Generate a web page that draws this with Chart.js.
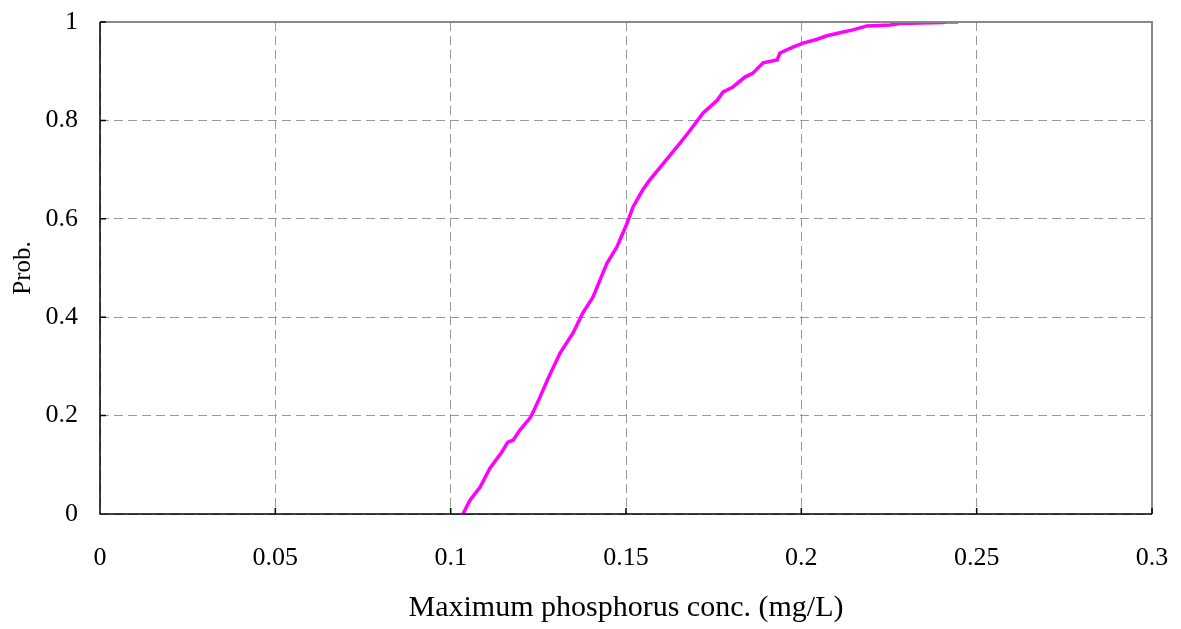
<!DOCTYPE html>
<html>
<head>
<meta charset="utf-8">
<script src="https://cdn.jsdelivr.net/npm/chart.js@4"></script>
<style>
  html, body { margin: 0; padding: 0; background: #fff; }
  #wrap { width: 1181px; height: 629px; }
</style>
</head>
<body>
<div id="wrap"><canvas id="cdf"></canvas></div>
<script>
// concentration (mg/L)
const conc = [0.1035, 0.1055, 0.1084, 0.1112, 0.1146, 0.1163, 0.1178, 0.1198, 0.1226, 0.1235,
  0.1255, 0.1278, 0.1312, 0.1349, 0.1377, 0.1406, 0.1426, 0.1446, 0.1474, 0.1503,
  0.152, 0.1548, 0.1568, 0.1654, 0.1683, 0.172, 0.176, 0.1777, 0.1805, 0.1839,
  0.1862, 0.1891, 0.1931, 0.1939, 0.1976, 0.2005, 0.2045, 0.2073, 0.211, 0.2147,
  0.2187, 0.2253, 0.2281, 0.2404, 0.2413, 0.2447];
// cumulative probability
const prob = [0, 0.028, 0.055, 0.093, 0.126, 0.146, 0.150, 0.171, 0.195, 0.207,
  0.238, 0.276, 0.327, 0.368, 0.409, 0.441, 0.476, 0.510, 0.543, 0.591,
  0.624, 0.659, 0.679, 0.754, 0.780, 0.815, 0.841, 0.858, 0.868, 0.888,
  0.896, 0.917, 0.923, 0.937, 0.949, 0.957, 0.965, 0.972, 0.978, 0.984,
  0.992, 0.994, 0.997, 0.999, 1.0, 1.0];
const xTicks = [0, 0.05, 0.1, 0.15, 0.2, 0.25, 0.3];
const yTicks = [0, 0.2, 0.4, 0.6, 0.8, 1];

const serif = 'Liberation Serif, Times New Roman, serif';

// solid frame: grey top/right, black left/bottom, small inward ticks
const frame = {
  id: 'frame',
  afterDraw(chart) {
    const { ctx, chartArea: a, scales } = chart;
    ctx.save();
    ctx.strokeStyle = '#888';
    ctx.lineWidth = 2;
    ctx.beginPath();
    ctx.moveTo(a.left, a.top); ctx.lineTo(a.right, a.top); ctx.lineTo(a.right, a.bottom);
    ctx.stroke();
    ctx.strokeStyle = '#000';
    ctx.lineWidth = 1.5;
    ctx.beginPath();
    ctx.moveTo(a.left, a.top); ctx.lineTo(a.left, a.bottom); ctx.lineTo(a.right, a.bottom);
    xTicks.forEach(v => {
      const px = scales.x.getPixelForValue(v);
      ctx.moveTo(px, a.bottom); ctx.lineTo(px, a.bottom - 6);
    });
    yTicks.forEach(v => {
      const py = scales.y.getPixelForValue(v);
      ctx.moveTo(a.left, py); ctx.lineTo(a.left + 6, py);
    });
    ctx.stroke();
    ctx.restore();
  }
};

new Chart(document.getElementById('cdf'), {
  type: 'line',
  data: {
    datasets: [{
      data: conc.map((c, i) => ({ x: c, y: prob[i] })),
      borderColor: '#ff00ff',
      borderWidth: 3.5,
      pointRadius: 0,
      tension: 0,
      fill: false
    }]
  },
  options: {
    responsive: true,
    maintainAspectRatio: false,
    animation: false,
    layout: { padding: { top: 22, right: 29, left: 0, bottom: 0 } },
    plugins: { legend: { display: false }, tooltip: { enabled: false } },
    scales: {
      x: {
        type: 'linear', min: 0, max: 0.3,
        afterFit(s) { s.height = 115; s.paddingLeft = 0; s.paddingRight = 0; },
        afterBuildTicks(s) { s.ticks = xTicks.map(v => ({ value: v })); },
        ticks: { color: '#000', padding: 29, maxRotation: 0, font: { family: serif, size: 26 },
          callback: v => String(v) },
        grid: { drawTicks: false, color: '#999', lineWidth: 1 },
        border: { display: false, dash: [9, 5] },
        title: { display: true, text: 'Maximum phosphorus conc. (mg/L)', color: '#000',
          font: { family: serif, size: 30 }, padding: { top: 0, bottom: 3 } }
      },
      y: {
        type: 'linear', min: 0, max: 1,
        afterFit(s) { s.width = 100; s.paddingTop = 0; s.paddingBottom = 0; },
        afterBuildTicks(s) { s.ticks = yTicks.map(v => ({ value: v })); },
        ticks: { color: '#000', padding: 22, font: { family: serif, size: 26 },
          callback: v => String(v) },
        grid: { drawTicks: false, color: '#999', lineWidth: 1 },
        border: { display: false, dash: [9, 5] },
        title: { display: true, text: 'Prob.', color: '#000',
          font: { family: serif, size: 25 }, padding: { top: 8, bottom: 0 } }
      }
    }
  },
  plugins: [frame]
});
</script>
</body>
</html>
